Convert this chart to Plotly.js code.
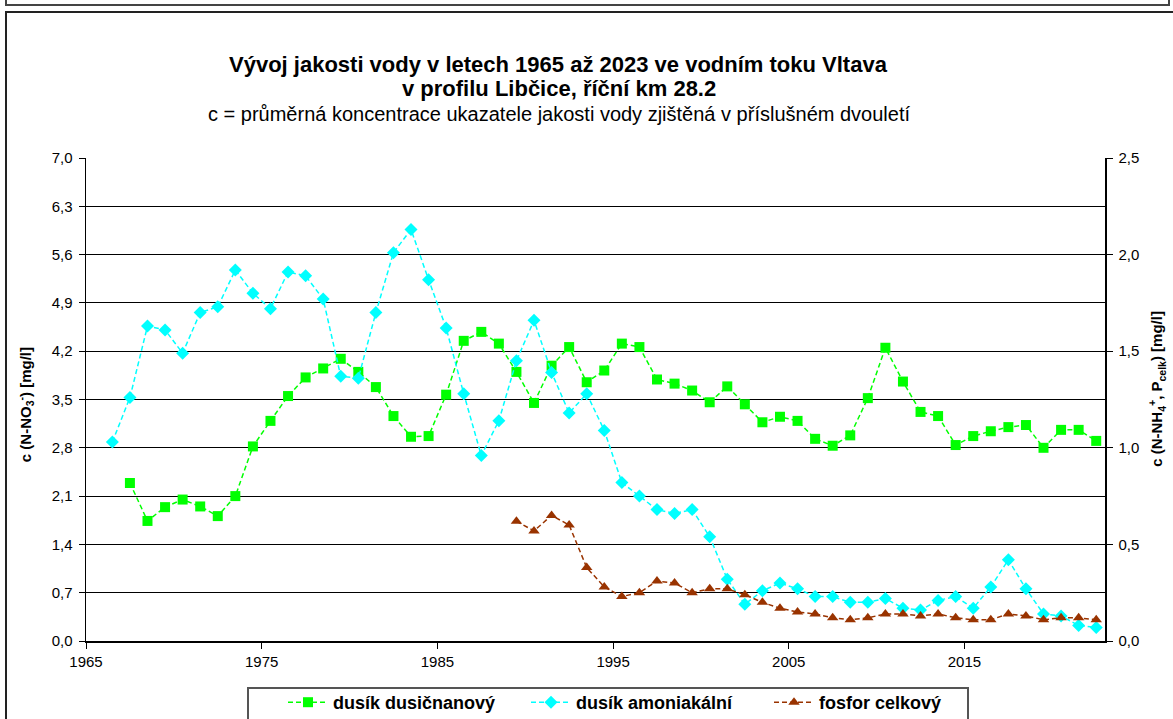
<!DOCTYPE html>
<html>
<head>
<meta charset="utf-8">
<script src="https://cdn.plot.ly/plotly-3.0.1.min.js"></script>
<style>
  html, body { margin: 0; padding: 0; background: #fff; }
  #wrap { position: relative; width: 1173px; height: 719px; overflow: hidden; }
  #chart { position: absolute; left: 0; top: 0; width: 1173px; height: 719px; }
  .frame { position: absolute; pointer-events: none; }
</style>
</head>
<body>
<div id="wrap">
  <div class="frame" style="left:247px; top:687px; width:718px; height:60px; border:2px solid #555; background:#fff;"></div>
  <div id="chart"></div>
  <div class="frame" style="left:5px; top:-4px; width:1161px; height:6px; border:2px solid #444;"></div>
  <div class="frame" style="left:5px; top:11px; width:1200px; height:760px; border-left:2px solid #222; border-top:2px solid #222;"></div>
</div>
<script>
// ---- data (biennial means, plotted at mid-point of the two-year period) ----
const nitrateYears = [1967.5,1968.5,1969.5,1970.5,1971.5,1972.5,1973.5,1974.5,1975.5,1976.5,
  1977.5,1978.5,1979.5,1980.5,1981.5,1982.5,1983.5,1984.5,1985.5,1986.5,
  1987.5,1988.5,1989.5,1990.5,1991.5,1992.5,1993.5,1994.5,1995.5,1996.5,
  1997.5,1998.5,1999.5,2000.5,2001.5,2002.5,2003.5,2004.5,2005.5,2006.5,
  2007.5,2008.5,2009.5,2010.5,2011.5,2012.5,2013.5,2014.5,2015.5,2016.5,
  2017.5,2018.5,2019.5,2020.5,2021.5,2022.5];
const nitrate = [2.29,1.74,1.94,2.05,1.95,1.81,2.10,2.82,3.19,3.55,
  3.82,3.95,4.09,3.90,3.68,3.26,2.96,2.97,3.57,4.35,
  4.48,4.31,3.90,3.45,3.99,4.26,3.75,3.92,4.31,4.26,
  3.79,3.73,3.63,3.46,3.69,3.43,3.17,3.25,3.19,2.93,
  2.83,2.98,3.52,4.25,3.76,3.32,3.26,2.84,2.97,3.04,
  3.10,3.13,2.80,3.06,3.06,2.90];

const ammoniumYears = [1966.5,1967.5,1968.5,1969.5,1970.5,1971.5,1972.5,1973.5,1974.5,1975.5,
  1976.5,1977.5,1978.5,1979.5,1980.5,1981.5,1982.5,1983.5,1984.5,1985.5,
  1986.5,1987.5,1988.5,1989.5,1990.5,1991.5,1992.5,1993.5,1994.5,1995.5,
  1996.5,1997.5,1998.5,1999.5,2000.5,2001.5,2002.5,2003.5,2004.5,2005.5,
  2006.5,2007.5,2008.5,2009.5,2010.5,2011.5,2012.5,2013.5,2014.5,2015.5,
  2016.5,2017.5,2018.5,2019.5,2020.5,2021.5,2022.5];
const ammonium = [1.03,1.26,1.63,1.61,1.49,1.70,1.73,1.92,1.80,1.72,
  1.91,1.89,1.77,1.37,1.36,1.70,2.01,2.13,1.87,1.62,
  1.28,0.96,1.14,1.45,1.66,1.39,1.18,1.28,1.09,0.82,
  0.75,0.68,0.66,0.68,0.54,0.32,0.19,0.26,0.30,0.27,
  0.23,0.23,0.20,0.20,0.22,0.17,0.16,0.21,0.23,0.17,
  0.28,0.42,0.27,0.14,0.13,0.08,0.07];

const phosphorusYears = [1989.5,1990.5,1991.5,1992.5,1993.5,1994.5,1995.5,1996.5,1997.5,1998.5,
  1999.5,2000.5,2001.5,2002.5,2003.5,2004.5,2005.5,2006.5,2007.5,2008.5,
  2009.5,2010.5,2011.5,2012.5,2013.5,2014.5,2015.5,2016.5,2017.5,2018.5,
  2019.5,2020.5,2021.5,2022.5];
const phosphorus = [0.62,0.57,0.65,0.60,0.38,0.28,0.23,0.25,0.31,0.30,
  0.25,0.27,0.27,0.24,0.20,0.17,0.15,0.14,0.12,0.11,
  0.12,0.14,0.14,0.13,0.14,0.12,0.11,0.11,0.14,0.13,
  0.11,0.12,0.12,0.11];

const seriesNames = ['dusík dusičnanový', 'dusík amoniakální', 'fosfor celkový'];
const xTicks = [1965, 1975, 1985, 1995, 2005, 2015];
const yLeftTicks = [0.0, 0.7, 1.4, 2.1, 2.8, 3.5, 4.2, 4.9, 5.6, 6.3, 7.0];
const yRightTicks = [0.0, 0.5, 1.0, 1.5, 2.0, 2.5];

const FONT = '"Liberation Sans", Arial, sans-serif';
const DASH = '5px,3px';

const traces = [
  { x: nitrateYears, y: nitrate, name: seriesNames[0], type: 'scatter', mode: 'lines+markers',
    yaxis: 'y', line: { color: '#00FF00', width: 1.5, dash: DASH },
    marker: { symbol: 'square', size: 10, color: '#00FF00' } },
  { x: ammoniumYears, y: ammonium, name: seriesNames[1], type: 'scatter', mode: 'lines+markers',
    yaxis: 'y2', line: { color: '#00FFFF', width: 1.5, dash: DASH },
    marker: { symbol: 'diamond', size: 10, color: '#00FFFF' } },
  { x: phosphorusYears, y: phosphorus, name: seriesNames[2], type: 'scatter', mode: 'lines+markers',
    yaxis: 'y2', line: { color: '#993300', width: 1.5, dash: DASH },
    marker: { symbol: 'triangle-up', size: 10, color: '#993300' } }
];

const layout = {
  width: 1173, height: 719,
  margin: { l: 86, r: 68, t: 158, b: 78, pad: 0 },
  paper_bgcolor: 'rgba(0,0,0,0)', plot_bgcolor: '#fff',
  font: { family: FONT, size: 15, color: '#000' },
  separators: ', ',
  showlegend: true,
  legend: {
    orientation: 'h', xref: 'container', yref: 'container',
    x: 283 / 1173, y: (719 - 684) / 719, xanchor: 'left', yanchor: 'top',
    borderwidth: 0, bgcolor: 'rgba(0,0,0,0)',
    font: { family: FONT, size: 18, color: '#000', weight: 'bold' },
    itemwidth: 40, entrywidth: 188, entrywidthmode: 'pixels', tracegroupgap: 0
  },
  xaxis: {
    range: [1965, 2023], tickvals: xTicks, ticktext: xTicks.map(String),
    showgrid: false, zeroline: false, showline: true, linecolor: '#000', linewidth: 1.5,
    ticks: 'outside', ticklen: 6, tickcolor: '#000', tickfont: { size: 15 }, automargin: false
  },
  yaxis: {
    range: [0, 7], tickvals: yLeftTicks, ticktext: yLeftTicks.map(v => v.toFixed(1).replace('.', ',')),
    showgrid: true, gridcolor: '#000', gridwidth: 1, zeroline: false,
    showline: true, linecolor: '#000', linewidth: 1.5, mirror: false,
    ticks: 'outside', ticklen: 6, tickcolor: '#000', tickfont: { size: 15 },
    ticklabelstandoff: 3, automargin: false
  },
  yaxis2: {
    range: [0, 2.5], overlaying: 'y', side: 'right',
    tickvals: yRightTicks, ticktext: yRightTicks.map(v => v.toFixed(1).replace('.', ',')),
    showgrid: false, zeroline: false, showline: true, linecolor: '#000', linewidth: 1.5,
    ticks: 'outside', ticklen: 6, tickcolor: '#000', tickfont: { size: 15 },
    ticklabelstandoff: 3, automargin: false
  },
  annotations: [
    { xref: 'paper', yref: 'paper', x: 0.464, y: 1.1946, xanchor: 'center', yanchor: 'middle', showarrow: false,
      text: '<b>Vývoj jakosti vody v letech 1965 až 2023 ve vodním toku Vltava</b>',
      font: { family: FONT, size: 22, color: '#000' } },
    { xref: 'paper', yref: 'paper', x: 0.464, y: 1.1449, xanchor: 'center', yanchor: 'middle', showarrow: false,
      text: '<b>v profilu Libčice, říční km 28.2</b>',
      font: { family: FONT, size: 22, color: '#000' } },
    { xref: 'paper', yref: 'paper', x: 0.464, y: 1.0911, xanchor: 'center', yanchor: 'middle', showarrow: false,
      text: 'c = průměrná koncentrace ukazatele jakosti vody zjištěná v příslušném dvouletí',
      font: { family: FONT, size: 20, color: '#000' } },
    { xref: 'paper', yref: 'paper', x: -0.060, y: 0.49, xanchor: 'center', yanchor: 'middle', showarrow: false,
      textangle: -90, text: '<b>c (N-NO<sub>3</sub><sup>-</sup>) [mg/l]</b>',
      font: { family: FONT, size: 15, color: '#000' } },
    { xref: 'paper', yref: 'paper', x: 1.051, y: 0.522, xanchor: 'center', yanchor: 'middle', showarrow: false,
      textangle: -90, text: '<b>c (N-NH<sub>4</sub><sup>+</sup>, P<sub>celk</sub>) [mg/l]</b>',
      font: { family: FONT, size: 15, color: '#000' } }
  ]
};

Plotly.newPlot('chart', traces, layout, { staticPlot: true, displayModeBar: false });
</script>
</body>
</html>
